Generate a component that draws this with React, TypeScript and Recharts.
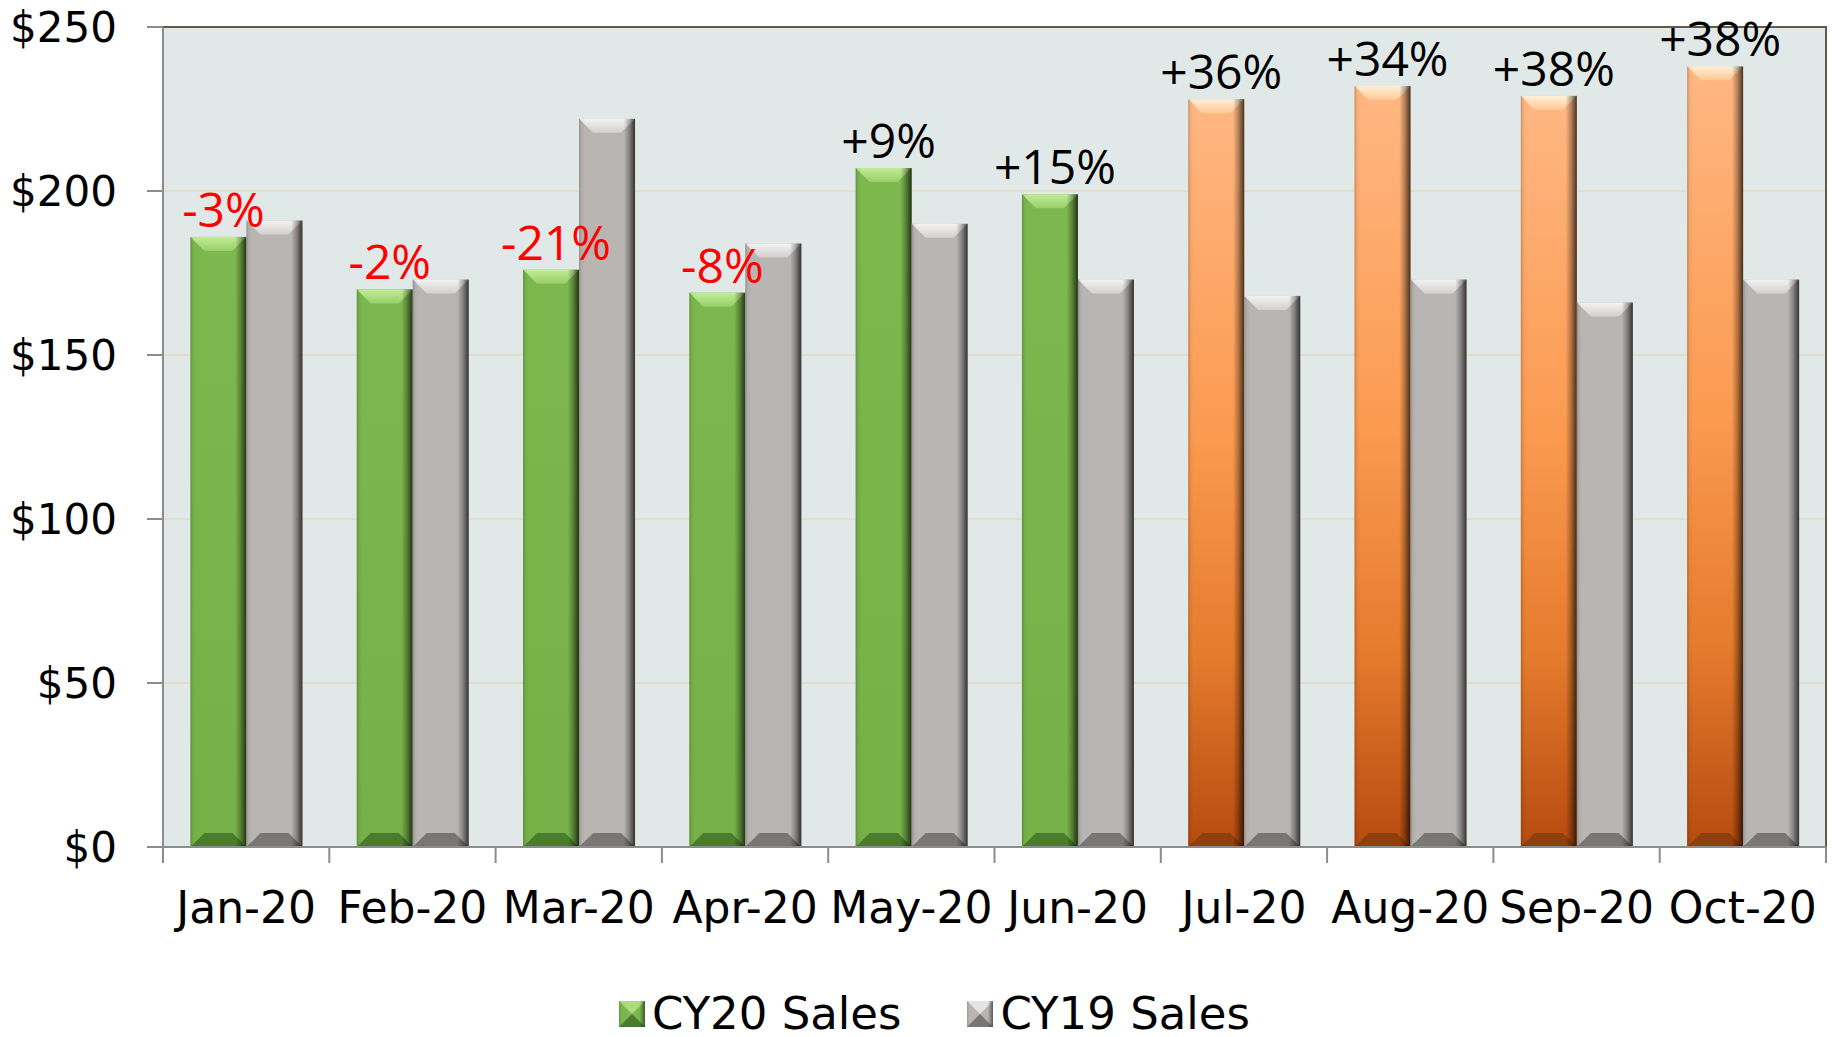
import React from 'react';
import { BarChart, Bar, XAxis, YAxis, CartesianGrid, Legend, LabelList, ReferenceArea } from 'recharts';

// Monthly sales, CY20 vs CY19 ($)
const months = ['Jan-20', 'Feb-20', 'Mar-20', 'Apr-20', 'May-20', 'Jun-20', 'Jul-20', 'Aug-20', 'Sep-20', 'Oct-20'];
const cy20Sales = [186, 170, 176, 169, 207, 199, 228, 232, 229, 238];
const cy19Sales = [191, 173, 222, 184, 190, 173, 168, 173, 166, 173];
const changeLabels = ['-3%', '-2%', '-21%', '-8%', '+9%', '+15%', '+36%', '+34%', '+38%', '+38%'];
const yTicks = [0, 50, 100, 150, 200, 250];

const data = months.map((month, i) => ({
  month,
  cy20: cy20Sales[i],
  cy19: cy19Sales[i],
  change: changeLabels[i],
}));

const WIDTH = 1837;
const HEIGHT = 1037;
const MARGIN = { top: 27, right: 11, left: 0, bottom: 0 };
const Y_AXIS_W = 163;
const PLOT_W = WIDTH - MARGIN.right - Y_AXIS_W;
const ORANGE_FROM = 6; // Jul-20 onwards drawn in orange

const AXIS_GRAY = '#8c8c8c';
const AXIS_FONT = "'DejaVu Sans', sans-serif";

const tones = {
  green: { face: 'url(#faceGreen)', top: 'url(#topGreen)', bottom: '#4b7b2f' },
  orange: { face: 'url(#faceOrange)', top: 'url(#topOrange)', bottom: '#8f3e0d' },
  gray: { face: '#b9b5b3', top: 'url(#topGray)', bottom: '#7a7673' },
};

type Tone = { face: string; top: string; bottom: string };

function BevelBar({ x, y, width, height, tone }: { x: number; y: number; width: number; height: number; tone: Tone }) {
  if (!height || height <= 0) return null;
  const b = Math.min(14, width / 4, height / 2);
  const r = x + width;
  const btm = y + height;
  return (
    <g>
      <rect x={x} y={y} width={width} height={height} fill={tone.face} />
      <polygon points={`${x},${y} ${r},${y} ${r - b},${y + b} ${x + b},${y + b}`} fill={tone.top} />
      <polygon points={`${x},${btm} ${r},${btm} ${r - b},${btm - b} ${x + b},${btm - b}`} fill={tone.bottom} />
      <rect x={x} y={y} width={width} height={height} fill="url(#edgeShade)" />
    </g>
  );
}

function Cy20Shape(props: any) {
  const tone = props.index >= ORANGE_FROM ? tones.orange : tones.green;
  return <BevelBar x={props.x} y={props.y} width={props.width} height={props.height} tone={tone} />;
}

function Cy19Shape(props: any) {
  return <BevelBar x={props.x} y={props.y} width={props.width} height={props.height} tone={tones.gray} />;
}

function ChangeLabel(props: any) {
  const x = Number(props.x);
  const y = Number(props.y);
  const w = Number(props.width);
  const value = String(props.value);
  const negative = value.startsWith('-');
  return (
    <text
      x={x + w / 2 + 5}
      y={y - 10}
      textAnchor="middle"
      fontFamily="'Open Sans', sans-serif"
      fontSize={48}
      fill={negative ? '#ff0000' : '#000000'}
    >
      {value}
    </text>
  );
}

function MonthTick(props: any) {
  const { x, y, payload } = props;
  const index = payload?.index ?? props.index;
  const band = PLOT_W / months.length;
  const left = x - band / 2;
  return (
    <g>
      <line x1={left} y1={y} x2={left} y2={y + 16} stroke={AXIS_GRAY} strokeWidth={2} />
      {index === months.length - 1 && (
        <line x1={x + band / 2} y1={y} x2={x + band / 2} y2={y + 16} stroke={AXIS_GRAY} strokeWidth={2} />
      )}
      <text x={x} y={y + 76} textAnchor="middle" fontFamily={AXIS_FONT} fontSize={44} fill="#000">
        {payload.value}
      </text>
    </g>
  );
}

function LegendIcon({ face, top, bottom }: { face: string; top: string; bottom: string }) {
  return (
    <svg width={26} height={26} style={{ display: 'block', marginRight: 7 }}>
      <rect x={0} y={0} width={26} height={26} fill={face} />
      <polygon points="0,0 26,0 13,13" fill={top} />
      <polygon points="0,26 26,26 13,13" fill={bottom} />
      <rect x={0} y={0} width={26} height={26} fill="url(#edgeShadeIcon)" />
    </svg>
  );
}

function LegendContent() {
  const items = [
    { label: 'CY20 Sales', face: '#79b44c', top: '#a9dc7c', bottom: '#4b7b2f' },
    { label: 'CY19 Sales', face: '#b9b5b3', top: '#e6e4e2', bottom: '#7a7673' },
  ];
  return (
    <div
      style={{
        height: 90,
        boxSizing: 'border-box',
        display: 'flex',
        alignItems: 'flex-end',
        paddingBottom: 1,
        fontFamily: AXIS_FONT,
        fontSize: 45,
        lineHeight: '44px',
        color: '#000',
      }}
    >
      {items.map((it, i) => (
        <div key={it.label} style={{ display: 'flex', alignItems: 'center', height: 44, marginRight: i === 0 ? 66 : 0 }}>
          <LegendIcon face={it.face} top={it.top} bottom={it.bottom} />
          <span style={{ whiteSpace: 'nowrap' }}>{it.label}</span>
        </div>
      ))}
    </div>
  );
}

export default function App() {
  return (
    <div style={{ width: WIDTH, height: HEIGHT, background: '#ffffff' }}>
      <style>{'body{margin:0;}'}</style>
      <svg width={0} height={0} style={{ position: 'absolute' }}>
        <defs>
          <linearGradient id="edgeShadeIcon" x1="0" y1="0" x2="1" y2="0">
            <stop offset="0%" stopColor="#000" stopOpacity={0.15} />
            <stop offset="10%" stopColor="#000" stopOpacity={0} />
            <stop offset="80%" stopColor="#000" stopOpacity={0} />
            <stop offset="100%" stopColor="#000" stopOpacity={0.5} />
          </linearGradient>
        </defs>
      </svg>
      <BarChart
        width={WIDTH}
        height={HEIGHT}
        data={data}
        margin={MARGIN}
        barCategoryGap="16.5%"
        barGap={0}
      >
        <defs>
          <linearGradient id="faceGreen" x1="0" y1="0" x2="0" y2="1">
            <stop offset="0%" stopColor="#7cb84e" />
            <stop offset="100%" stopColor="#76b148" />
          </linearGradient>
          <linearGradient id="topGreen" x1="0" y1="0" x2="0" y2="1">
            <stop offset="0%" stopColor="#c2ec98" />
            <stop offset="100%" stopColor="#97cf68" />
          </linearGradient>
          <linearGradient id="faceOrange" x1="0" y1="0" x2="0" y2="1">
            <stop offset="0%" stopColor="#ffb783" />
            <stop offset="45%" stopColor="#fb9a50" />
            <stop offset="75%" stopColor="#e47a2c" />
            <stop offset="100%" stopColor="#b64b10" />
          </linearGradient>
          <linearGradient id="topOrange" x1="0" y1="0" x2="0" y2="1">
            <stop offset="0%" stopColor="#fff0d8" />
            <stop offset="100%" stopColor="#ffc894" />
          </linearGradient>
          <linearGradient id="topGray" x1="0" y1="0" x2="0" y2="1">
            <stop offset="0%" stopColor="#f4f3f2" />
            <stop offset="100%" stopColor="#d3d0ce" />
          </linearGradient>
          <linearGradient id="edgeShade" x1="0" y1="0" x2="1" y2="0">
            <stop offset="0%" stopColor="#000" stopOpacity={0.22} />
            <stop offset="4%" stopColor="#000" stopOpacity={0.05} />
            <stop offset="10%" stopColor="#000" stopOpacity={0} />
            <stop offset="80%" stopColor="#000" stopOpacity={0} />
            <stop offset="90%" stopColor="#000" stopOpacity={0.3} />
            <stop offset="100%" stopColor="#000" stopOpacity={0.72} />
          </linearGradient>
        </defs>
        <CartesianGrid vertical={false} stroke="#e4ddca" strokeWidth={2} fill="#e0e9e8" />
        <ReferenceArea y1={0} y2={250} fill="none" stroke="#5e5b46" strokeWidth={2} ifOverflow="visible" />
        <XAxis
          dataKey="month"
          height={100}
          axisLine={{ stroke: AXIS_GRAY, strokeWidth: 2 }}
          tickLine={false}
          tickSize={0}
          tickMargin={0}
          interval={0}
          tick={<MonthTick />}
        />
        <YAxis
          width={Y_AXIS_W}
          domain={[0, 250]}
          ticks={yTicks}
          interval={0}
          tickFormatter={(v: number) => `$${v}`}
          axisLine={{ stroke: AXIS_GRAY, strokeWidth: 2 }}
          tickLine={{ stroke: AXIS_GRAY, strokeWidth: 2 }}
          tickSize={16}
          tickMargin={30}
          tick={{ fontFamily: AXIS_FONT, fontSize: 42, fill: '#000' }}
        />
        <Legend
          verticalAlign="bottom"
          content={<LegendContent />}
          wrapperStyle={{ left: 619, width: 760 }}
        />
        <Bar dataKey="cy20" name="CY20 Sales" shape={Cy20Shape} isAnimationActive={false}>
          <LabelList dataKey="change" content={ChangeLabel} />
        </Bar>
        <Bar dataKey="cy19" name="CY19 Sales" shape={Cy19Shape} isAnimationActive={false} />
      </BarChart>
    </div>
  );
}
